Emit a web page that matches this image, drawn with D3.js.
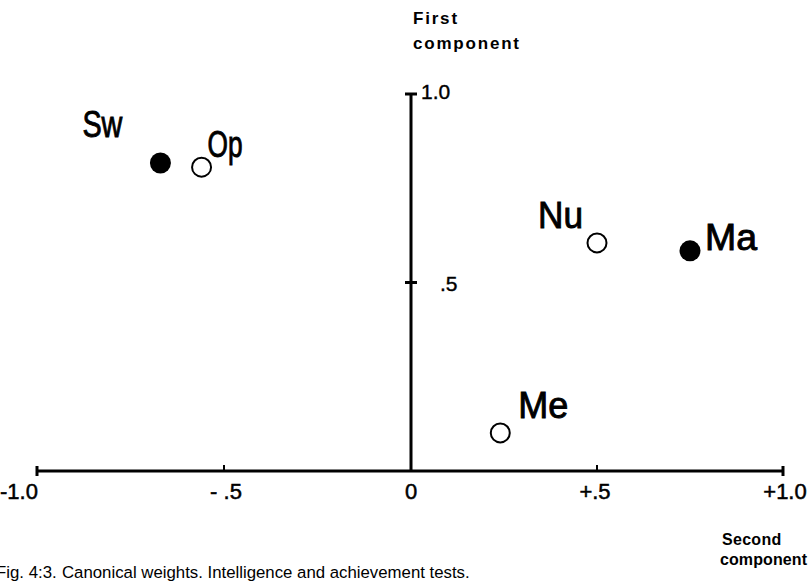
<!DOCTYPE html>
<html>
<head>
<meta charset="utf-8">
<script src="https://cdn.jsdelivr.net/npm/d3@7/dist/d3.min.js"></script>
<style>
  html, body { margin: 0; padding: 0; background: #fff; }
  svg { display: block; }
</style>
</head>
<body>
<script>
// ---- data ----
const codes = ["Sw", "Op", "Nu", "Ma", "Me"];
const secondComponent = [-0.67, -0.56, 0.50, 0.75, 0.24];
const firstComponent = [0.817, 0.806, 0.605, 0.584, 0.101];
const filled = [true, false, false, true, false];
const xTickValues = [-1.0, -0.5, 0, 0.5, 1.0];
const xTickLabels = ["-1.0", "- .5", "0", "+.5", "+1.0"];
const yTickValues = [0.5, 1.0];
const yTickLabels = [".5", "1.0"];

// ---- layout ----
const W = 812, H = 581;
const svg = d3.select("body").append("svg").attr("width", W).attr("height", H);
const x = d3.scaleLinear().domain([-1, 0, 1]).range([37, 411, 783]);
const y = d3.scaleLinear().domain([0, 1]).range([471, 94]);
const ink = "#000";
const labelFont = "'Liberation Sans',Arial,sans-serif";

// label style: [dx of text start, dy of baseline, rendered width]
const labelStyle = {Sw: [-78, -26, 40], Op: [6, -10, 35], Nu: [-59, -15, 45], Ma: [15, -1, 52], Me: [18, -15, 50]};

// x axis
svg.append("line").attr("x1", x(-1)).attr("x2", x(1)).attr("y1", y(0)).attr("y2", y(0))
  .attr("stroke", ink).attr("stroke-width", 3);
// y axis
svg.append("line").attr("x1", x(0)).attr("x2", x(0)).attr("y1", y(0)).attr("y2", y(1))
  .attr("stroke", ink).attr("stroke-width", 3);

// x ticks
xTickValues.forEach((v) => {
  if (v === 0) return;
  const end = Math.abs(v) === 1;
  svg.append("line").attr("x1", x(v)).attr("x2", x(v))
    .attr("y1", y(0) - (end ? 5 : 6)).attr("y2", y(0) + (end ? 5 : 0))
    .attr("stroke", ink).attr("stroke-width", end ? 3 : 2);
});
const xLabelDx = [-18, 2, 0, -2, 2];
xTickValues.forEach((v, i) => {
  svg.append("text").attr("x", x(v) + xLabelDx[i]).attr("y", y(0) + 28)
    .attr("text-anchor", "middle").attr("font-family", labelFont)
    .attr("font-size", 22).attr("fill", ink).attr("stroke", ink).attr("stroke-width", 0.5)
    .text(xTickLabels[i]);
});

// y ticks
yTickValues.forEach((v) => {
  svg.append("line").attr("x1", x(0) - 6).attr("x2", x(0) + 6)
    .attr("y1", y(v)).attr("y2", y(v)).attr("stroke", ink).attr("stroke-width", 3);
});
svg.append("text").attr("x", x(0) + 29).attr("y", y(0.5) + 8)
  .attr("font-family", labelFont).attr("font-size", 21).attr("fill", ink)
  .attr("stroke", ink).attr("stroke-width", 0.4).text(yTickLabels[0]);
svg.append("text").attr("x", x(0) + 10).attr("y", y(1.0) + 5)
  .attr("font-family", labelFont).attr("font-size", 21).attr("fill", ink)
  .attr("stroke", ink).attr("stroke-width", 0.4).text(yTickLabels[1]);

// axis titles
const titleFont = "'Liberation Sans','DejaVu Sans',sans-serif";
svg.append("text").attr("x", 413).attr("y", 24).attr("font-family", titleFont)
  .attr("font-size", 17).attr("font-weight", "bold").attr("letter-spacing", 1.8).attr("fill", ink).text("First");
svg.append("text").attr("x", 413).attr("y", 49).attr("font-family", titleFont)
  .attr("font-size", 17).attr("font-weight", "bold").attr("letter-spacing", 1.8).attr("fill", ink).text("component");
svg.append("text").attr("x", 722).attr("y", 545).attr("font-family", titleFont)
  .attr("font-size", 16).attr("font-weight", "bold").attr("letter-spacing", 0.3).attr("fill", ink).text("Second");
svg.append("text").attr("x", 720).attr("y", 565).attr("font-family", titleFont)
  .attr("font-size", 16).attr("font-weight", "bold").attr("letter-spacing", 0.1).attr("fill", ink).text("component");

// caption
const capFont = "'Liberation Sans',Arial,sans-serif";
svg.append("text").attr("x", -4).attr("y", 578).attr("font-family", capFont)
  .attr("font-size", 16.8).attr("fill", ink).text("Fig. 4:3.");
svg.append("text").attr("x", 62).attr("y", 578).attr("font-family", capFont)
  .attr("font-size", 16.8).attr("fill", ink).text("Canonical weights. Intelligence and achievement tests.");

// points
const pts = codes.map((c, i) => ({c, sx: secondComponent[i], fy: firstComponent[i], f: filled[i]}));
svg.selectAll("circle.pt").data(pts).join("circle").attr("class", "pt")
  .attr("cx", d => x(d.sx)).attr("cy", d => y(d.fy))
  .attr("r", d => d.f ? 10.5 : 9.5)
  .attr("fill", d => d.f ? ink : "#fff")
  .attr("stroke", ink).attr("stroke-width", d => d.f ? 0 : 2);
svg.selectAll("text.pl").data(pts).join("text").attr("class", "pl")
  .attr("x", d => x(d.sx) + labelStyle[d.c][0])
  .attr("y", d => y(d.fy) + labelStyle[d.c][1])
  .attr("textLength", d => labelStyle[d.c][2]).attr("lengthAdjust", "spacingAndGlyphs")
  .attr("font-family", labelFont).attr("font-size", 36).attr("fill", ink)
  .attr("stroke", ink).attr("stroke-width", 0.9).text(d => d.c);
</script>
</body>
</html>
